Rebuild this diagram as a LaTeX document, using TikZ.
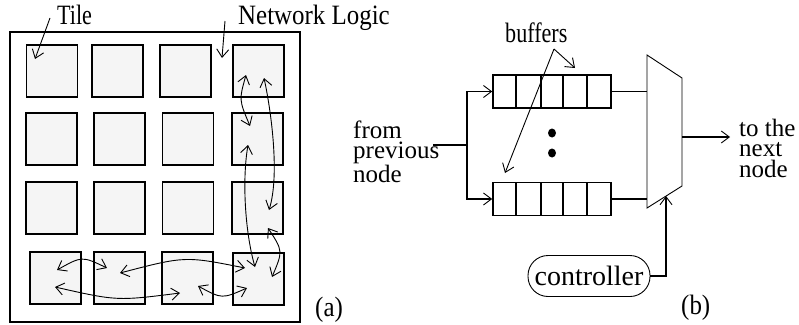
\documentclass[tikz,border=0pt]{standalone}
\usepackage{fontspec}
\setmainfont{Liberation Serif}[FakeStretch=0.89]
\newfontfamily\wideserif{Liberation Serif}
\newfontfamily\narrowserif{Liberation Serif}[FakeStretch=0.79]
\usetikzlibrary{arrows.meta}
\begin{document}
\begin{tikzpicture}[x=1pt,y=-1pt,
  lbl/.style={font=\fontsize{28}{20.5}\selectfont, inner sep=0pt},
  multi/.style={inner sep=0pt, align=left, anchor=base west, font=\wideserif\fontsize{25}{20.3}\selectfont},
  tile/.style={draw, line width=1.8pt, fill=black!4, minimum width=51pt, minimum height=52pt, inner sep=0pt},
  barb/.tip={Straight Barb[length=8pt,width=12pt,line width=0.9pt]},
  link/.style={line width=0.9pt, barb-barb},
  pointer/.style={line width=0.9pt, -barb},
  wire/.style={line width=1.6pt},
  buf/.style={draw, line width=1.6pt, minimum width=118pt, minimum height=33pt, inner sep=0pt},
  pill/.style={draw, line width=0.9pt, rounded corners=20pt, minimum width=122pt, minimum height=41pt, inner sep=0pt, font=\wideserif\fontsize{28}{20}\selectfont}
]
\useasboundingbox (0,0) rectangle (799,324);

% ---------- (a) ----------
\draw[line width=2pt] (10,32) rectangle (300,322);

\node[tile] (t11) at (52,71) {};
\node[tile] (t12) at (117.5,71) {};
\node[tile] (t13) at (185.5,71) {};
\node[tile] (t14) at (258.5,71) {};
\node[tile] (t21) at (51.5,139) {};
\node[tile] (t22) at (119.5,139) {};
\node[tile] (t23) at (188,139) {};
\node[tile] (t24) at (257.5,139) {};
\node[tile] (t31) at (51.5,208) {};
\node[tile] (t32) at (119.5,208) {};
\node[tile] (t33) at (188,208) {};
\node[tile] (t34) at (257.5,208) {};
\node[tile] (t41) at (55.5,278) {};
\node[tile] (t42) at (119.5,278) {};
\node[tile] (t43) at (187.5,278) {};
\node[tile] (t44) at (258.5,279) {};

% link end points inside tiles
\coordinate (p1) at (246,75);
\coordinate (p2) at (250,126);
\coordinate (p3) at (264,78);
\coordinate (p4) at (269,210);
\coordinate (p5) at (248,145);
\coordinate (p6) at (255,267);
\coordinate (p7) at (268,228);
\coordinate (p8) at (272,277);
\coordinate (q1) at (57,270);
\coordinate (q2) at (107,268);
\coordinate (q3) at (120,273);
\coordinate (q4) at (245,268);
\coordinate (q5) at (55,287);
\coordinate (q6) at (180,293);
\coordinate (q7) at (198,286);
\coordinate (q8) at (247,288);

\draw[link] (p1) .. controls (239,100) .. (p2);
\draw[link] (p3) .. controls (271,110) and (280,175) .. (p4);
\draw[link] (p5) .. controls (242,180) and (245,232) .. (p6);
\draw[link] (p7) .. controls (283,251) .. (p8);
\draw[link] (q1) .. controls (82,256) .. (q2);
\draw[link] (q3) .. controls (185,256) .. (q4);
\draw[link] (q5) .. controls (117,301) .. (q6);
\draw[link] (q7) .. controls (222,299) .. (q8);

\node[lbl, anchor=base west, font=\narrowserif\fontsize{28}{20}\selectfont] (tilelbl) at (57,24) {Tile};
\node[lbl, anchor=base west] (netlbl) at (238,24) {Network Logic};
\coordinate (ta) at (50,18);
\coordinate (tb) at (35,59);
\coordinate (na) at (225,21);
\coordinate (nb) at (222,58);
\draw[pointer] (ta) -- (tb);
\draw[pointer] (na) -- (nb);

\node[lbl, anchor=base west] (alabel) at (315,316) {(a)};

% ---------- (b) ----------
\node[buf] (b1) at (552,91.5) {};
\node[buf] (b2) at (552,199) {};
\foreach \x in {516,541,563,587}{
  \draw[wire] (\x,75) -- (\x,108);
  \draw[wire] (\x,182.5) -- (\x,215.5);
}
\fill (552,133) ellipse [x radius=4, y radius=4.5];
\fill (552,153) ellipse [x radius=4, y radius=4.5];

\node[lbl, anchor=base west, font=\narrowserif\fontsize{28}{20}\selectfont] (buflbl) at (505,42) {buffers};
\coordinate (bs) at (554,49);
\coordinate (be1) at (575,68);
\coordinate (be2) at (505,173);
\draw[pointer] (bs) -- (be1);
\draw[pointer] (bs) -- (be2);

\node[multi] (from) at (353,182.5) {from\\previous\\node};
\coordinate (in) at (433,145);
\coordinate (split) at (467,145);
\draw[wire] (in) -- (split);
\draw[wire, -barb] (split) |- (b1.west);
\draw[wire, -barb] (split) |- (b2.west);

% multiplexer
\coordinate (m1) at (647,55);
\coordinate (m2) at (682,78);
\coordinate (m3) at (682,186);
\coordinate (m4) at (647,208);
\draw[line width=0.9pt, fill=white] (m1) -- (m2) -- (m3) -- (m4) -- cycle;
\coordinate (mi1) at (647,91.5);
\coordinate (mi2) at (647,199);
\draw[wire] (b1.east) -- (mi1);
\draw[wire] (b2.east) -- (mi2);

\coordinate (mo) at (682,137);
\coordinate (oe) at (730,137);
\draw[wire, -barb] (mo) -- (oe);
\node[multi] (out) at (739,177) {to the\\next\\node};

\node[pill] (ctrl) at (589,276) {controller};
\coordinate (mc) at (666,196);
\draw[wire, -barb] (ctrl.east) -| (mc);

\node[lbl, anchor=base west] (blabel) at (681,314) {(b)};
\end{tikzpicture}
\end{document}
